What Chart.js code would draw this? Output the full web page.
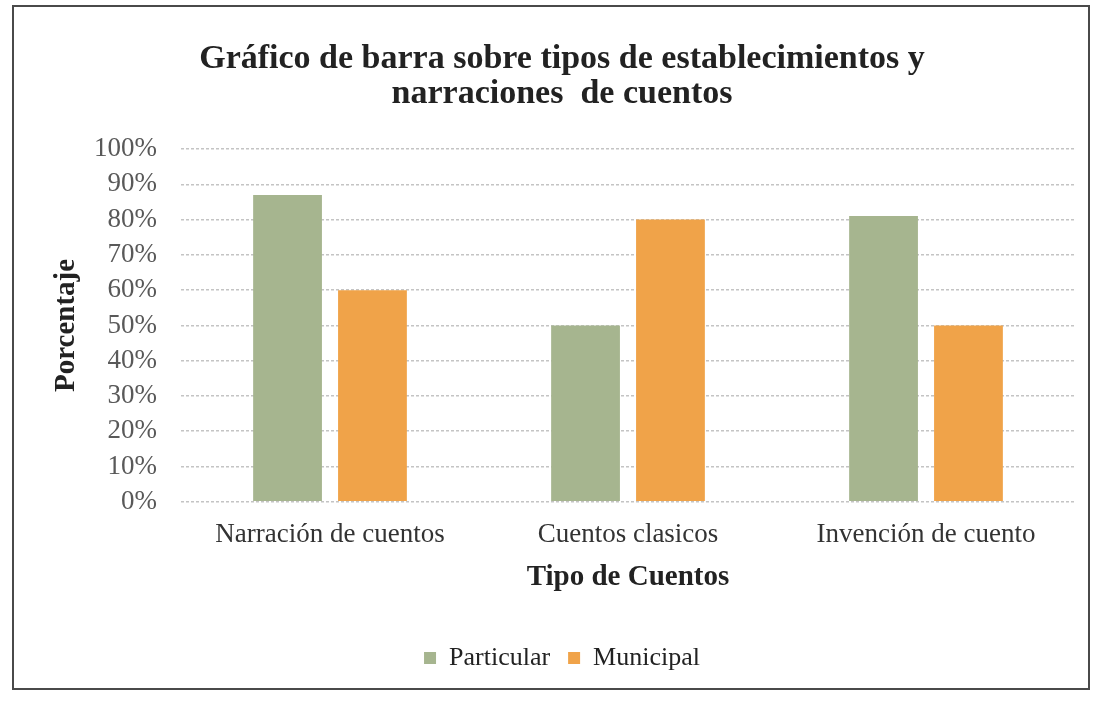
<!DOCTYPE html>
<html>
<head>
<meta charset="utf-8">
<script src="https://cdn.jsdelivr.net/npm/chart.js@4"></script>
<style>
  html, body { margin: 0; padding: 0; background: #fff; }
  .frame {
    position: absolute; left: 12px; top: 5px;
    width: 1078px; height: 685px;
    box-sizing: border-box;
    border: 2px solid #4a4a4a;
    background: #fff;
  }
  .frame canvas { display: block; }
</style>
</head>
<body>
<div class="frame"><canvas id="cuentosChart" width="1074" height="681"></canvas></div>
<script>
const categorias = ['Narración de cuentos', 'Cuentos clasicos', 'Invención de cuento'];
const particular = [87, 50, 81];
const municipal = [60, 80, 50];
const serif = "'Liberation Serif', 'DejaVu Serif', serif";

new Chart(document.getElementById('cuentosChart'), {
    type: 'bar',
    data: {
        labels: categorias,
        datasets: [
            {
                label: 'Particular',
                data: particular,
                backgroundColor: '#a6b58f'
            },
            {
                label: 'Municipal',
                data: municipal,
                backgroundColor: '#f0a349'
            }
        ]
    },
    options: {
        responsive: false,
        animation: false,
        categoryPercentage: 0.57,
        barPercentage: 0.81,
        layout: {
            padding: { top: 35, right: 13, bottom: 7, left: 35 }
        },
        plugins: {
            title: {
                display: true,
                text: ['Gráfico de barra sobre tipos de establecimientos y', 'narraciones  de cuentos'],
                color: '#222',
                font: { family: serif, size: 34, weight: 'bold', lineHeight: 1.03 },
                padding: { top: 0, bottom: 37 }
            },
            legend: {
                position: 'bottom',
                labels: {
                    color: '#222',
                    boxWidth: 12,
                    boxHeight: 12,
                    padding: 18,
                    font: { family: serif, size: 26 }
                }
            },
            tooltip: { enabled: false }
        },
        scales: {
            y: {
                min: 0,
                max: 100,
                afterFit: (scale) => { scale.width = 132; },
                ticks: {
                    stepSize: 10,
                    autoSkip: false,
                    color: '#595959',
                    padding: 24,
                    font: { family: serif, size: 27, lineHeight: 1 },
                    callback: v => `${v}%`
                },
                grid: {
                    color: '#c4c4c4',
                    lineWidth: 1.5,
                    drawTicks: false
                },
                border: { display: false, dash: [3, 2] },
                title: {
                    display: true,
                    text: 'Porcentaje',
                    color: '#222',
                    font: { family: serif, size: 29, weight: 'bold' },
                    padding: { top: 0, bottom: 0 }
                }
            },
            x: {
                ticks: {
                    color: '#333',
                    padding: 9,
                    font: { family: serif, size: 27 }
                },
                grid: { display: false },
                border: { display: false },
                title: {
                    display: true,
                    text: 'Tipo de Cuentos',
                    color: '#222',
                    font: { family: serif, size: 29, weight: 'bold' },
                    padding: { top: 0, bottom: 32 }
                }
            }
        }
    }
});
</script>
</body>
</html>
